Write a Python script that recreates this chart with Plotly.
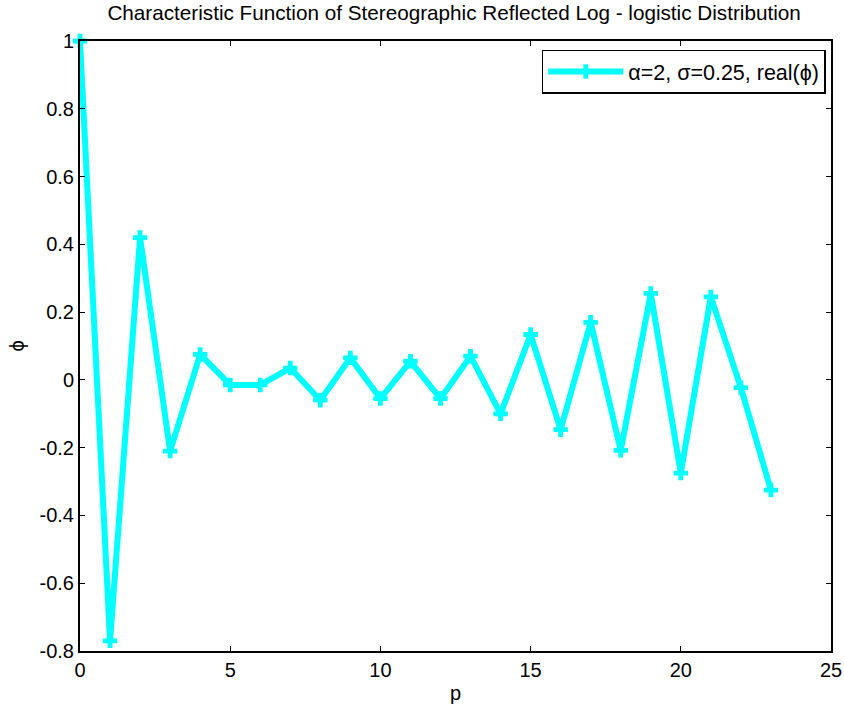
import plotly.graph_objects as go

p = list(range(24))
phi_real = [1.0, -0.77, 0.42, -0.21, 0.075, -0.015, -0.015, 0.035, -0.06, 0.065,
            -0.055, 0.055, -0.055, 0.07, -0.10, 0.134, -0.147, 0.17, -0.208, 0.255,
            -0.275, 0.245, -0.023, -0.325]
series_name = "\u03b1=2, \u03c3=0.25, real(\u03d5)"
title = "Characteristic Function of Stereographic Reflected Log - logistic Distribution"
x_ticks = [0, 5, 10, 15, 20, 25]
y_ticks = [-0.8, -0.6, -0.4, -0.2, 0, 0.2, 0.4, 0.6, 0.8, 1]
y_ticklabels = ["-0.8", "-0.6", "-0.4", "-0.2", "0", "0.2", "0.4", "0.6", "0.8", "1"]

font = "Liberation Sans, Arial, sans-serif"

fig = go.Figure()
fig.add_trace(go.Scatter(
    x=p, y=phi_real, mode="lines+markers", name=series_name,
    line=dict(color="#00FFFF", width=6),
    marker=dict(symbol="cross", size=12, color="#00FFFF"),
    cliponaxis=False,
))

axis_common = dict(
    showline=True, linecolor="black", linewidth=2, mirror="ticks",
    ticks="inside", ticklen=5, tickcolor="black", tickwidth=1,
    showgrid=False, zeroline=False, automargin=False,
    tickfont=dict(family=font, size=20, color="black"),
)

fig.update_layout(
    width=844, height=709,
    margin=dict(l=80, r=13, t=41, b=58, autoexpand=False),
    paper_bgcolor="white", plot_bgcolor="white",
    title=dict(text=title, x=0.538, xanchor="center", y=0.992, yanchor="top",
               font=dict(family=font, size=20.7, color="black")),
    xaxis=dict(range=[0, 25], tickvals=x_ticks,
               title=dict(text="p", font=dict(family=font, size=20, color="black"), standoff=6),
               **axis_common),
    yaxis=dict(range=[-0.8, 1], tickvals=y_ticks, ticktext=y_ticklabels,
               title=dict(text="\u03d5", font=dict(family=font, size=20, color="black"), standoff=10),
               **axis_common),
    legend=dict(x=0.993, y=0.986, xanchor="right", yanchor="top",
                bordercolor="black", borderwidth=1.5, bgcolor="white", itemwidth=75,
                font=dict(family=font, size=21.5, color="black")),
    showlegend=True,
)

fig.write_html("out.html", config={"displayModeBar": False},
               post_script="document.body.style.margin='0';document.body.style.padding='0';")
